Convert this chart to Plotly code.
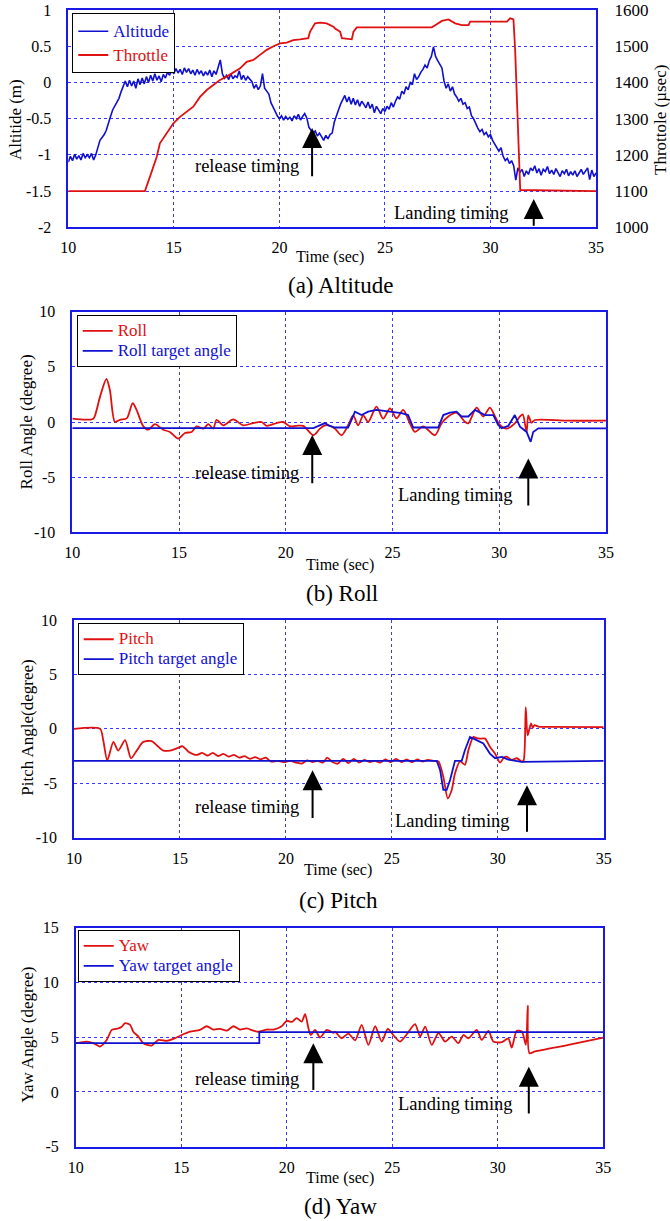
import plotly.graph_objects as go

W, H = 670, 1221
def px(x): return x / W
def py(y): return 1 - y / H

BLUE = "#1010d0"
RED = "#e01010"
AXIS = "#1a1ae6"
GRID = "#3a3aff"
FONT = "Liberation Serif, Times New Roman, serif"

# ---------------- data ----------------
time_ticks = [10, 15, 20, 25, 30, 35]
time_ticktext = ["10", "15", "20", "25", "30", "35"]

alt_t = [10.0, 10.1, 10.2, 10.3, 10.4, 10.5, 10.6, 10.7, 10.8, 10.9,
         11.0, 11.1, 11.2, 11.3, 11.4, 11.5, 11.6, 11.7, 11.8, 11.9,
         12.0, 12.1, 12.2, 12.3, 12.4, 12.5, 12.6, 12.7, 12.8, 12.9,
         13.0, 13.1, 13.2, 13.3, 13.4, 13.5, 13.6, 13.7, 13.8, 13.9,
         14.0, 14.1, 14.2, 14.3, 14.4, 14.5, 14.6, 14.7, 14.8, 14.9,
         15.0, 15.1, 15.2, 15.3, 15.4, 15.5, 15.6, 15.7, 15.8, 15.9,
         16.0, 16.1, 16.2, 16.3, 16.4, 16.5, 16.6, 16.7, 16.8, 16.9,
         17.0, 17.1, 17.2, 17.3, 17.4, 17.5, 17.6, 17.7, 17.8, 17.9,
         18.0, 18.1, 18.2, 18.3, 18.4, 18.5, 18.6, 18.7, 18.8, 18.9,
         19.0, 19.1, 19.2, 19.3, 19.4, 19.5, 19.6, 19.7, 19.8, 19.9,
         20.0, 20.1, 20.2, 20.3, 20.4, 20.5, 20.6, 20.7, 20.8, 20.9,
         21.0, 21.1, 21.2, 21.3, 21.4, 21.5, 21.6, 21.7, 21.8, 21.9,
         22.0, 22.1, 22.2, 22.3, 22.4, 22.5, 22.6, 22.7, 22.8, 22.9,
         23.0, 23.1, 23.2, 23.3, 23.4, 23.5, 23.6, 23.7, 23.8, 23.9,
         24.0, 24.1, 24.2, 24.3, 24.4, 24.5, 24.6, 24.7, 24.8, 24.9,
         25.0, 25.1, 25.2, 25.3, 25.4, 25.5, 25.6, 25.7, 25.8, 25.9,
         26.0, 26.1, 26.2, 26.3, 26.4, 26.5, 26.6, 26.7, 26.8, 26.9,
         27.0, 27.1, 27.2, 27.3, 27.4, 27.5, 27.6, 27.7, 27.8, 27.9,
         28.0, 28.1, 28.2, 28.3, 28.4, 28.5, 28.6, 28.7, 28.8, 28.9,
         29.0, 29.1, 29.2, 29.3, 29.4, 29.5, 29.6, 29.7, 29.8, 29.9,
         30.0, 30.1, 30.2, 30.3, 30.4, 30.5, 30.6, 30.7, 30.8, 30.9,
         31.0, 31.1, 31.2, 31.3, 31.4, 31.5, 31.6, 31.7, 31.8, 31.9,
         32.0, 32.1, 32.2, 32.3, 32.4, 32.5, 32.6, 32.7, 32.8, 32.9,
         33.0, 33.1, 33.2, 33.3, 33.4, 33.5, 33.6, 33.7, 33.8, 33.9,
         34.0, 34.1, 34.2, 34.3, 34.4, 34.5, 34.6, 34.7, 34.8, 34.9, 35.0]
altitude = [-1.10, -1.02, -1.08, -0.99, -1.06, -1.01, -1.07, -0.98, -1.04, -1.00,
            -1.04, -0.98, -1.07, -1.00, -0.90, -0.80, -0.76, -0.72, -0.66, -0.55,
            -0.47, -0.38, -0.33, -0.27, -0.22, -0.13, -0.06, 0.02, -0.06, 0.03,
            -0.05, 0.02, -0.08, 0.05, -0.03, 0.06, -0.02, 0.08, 0.00, 0.10,
            0.02, 0.12, 0.03, 0.09, 0.01, 0.11, 0.06, 0.14, 0.10, 0.17,
            0.12, 0.19, 0.13, 0.18, 0.11, 0.20, 0.14, 0.19, 0.12, 0.17,
            0.10, 0.18, 0.12, 0.16, 0.09, 0.15, 0.10, 0.17, 0.08, 0.16,
            0.11, 0.22, 0.31, 0.12, 0.06, 0.10, 0.04, 0.12, 0.05, 0.09,
            0.07, 0.16, 0.04, 0.10, 0.03, 0.08, 0.05, 0.01, -0.08, -0.03,
            -0.10, -0.05, 0.12, -0.08, -0.12, -0.16, -0.28, -0.33, -0.40, -0.46,
            -0.50, -0.46, -0.52, -0.47, -0.51, -0.48, -0.53, -0.46, -0.50, -0.44,
            -0.52, -0.47, -0.43, -0.49, -0.62, -0.66, -0.70, -0.67, -0.74, -0.70,
            -0.76, -0.80, -0.73, -0.78, -0.72, -0.70, -0.55, -0.45, -0.38, -0.30,
            -0.24, -0.18, -0.27, -0.20, -0.30, -0.22, -0.31, -0.24, -0.33, -0.26,
            -0.30, -0.35, -0.27, -0.36, -0.30, -0.42, -0.33, -0.38, -0.43, -0.36,
            -0.40, -0.33, -0.37, -0.28, -0.34, -0.26, -0.20, -0.23, -0.12, -0.16,
            -0.06, -0.10, 0.00, -0.03, 0.12, 0.04, 0.08, 0.14, 0.18, 0.24,
            0.20, 0.30, 0.36, 0.49, 0.36, 0.30, 0.25, 0.20, 0.02, -0.08,
            -0.02, -0.12, -0.06, -0.16, -0.20, -0.26, -0.22, -0.30, -0.28, -0.36,
            -0.34, -0.46, -0.50, -0.58, -0.63, -0.68, -0.65, -0.72, -0.69, -0.75,
            -0.72, -0.80, -0.85, -0.88, -0.95, -0.90, -1.02, -1.08, -1.05, -1.12,
            -1.08, -1.15, -1.35, -1.18, -1.24, -1.20, -1.30, -1.22, -1.27, -1.18,
            -1.22, -1.15, -1.25, -1.19, -1.28, -1.20, -1.23, -1.16, -1.26, -1.21,
            -1.27, -1.19, -1.24, -1.30, -1.22, -1.26, -1.20, -1.29, -1.23, -1.28,
            -1.22, -1.30, -1.25, -1.20, -1.27, -1.23, -1.18, -1.34, -1.21, -1.30, -1.25]

thr_t = [10.0, 13.63, 13.87, 14.19, 14.34, 14.66, 14.98, 15.29, 15.61, 15.92,
         16.24, 16.56, 16.87, 17.19, 17.5, 17.82, 18.14, 18.45, 18.77, 19.08,
         19.4, 19.72, 20.03, 20.35, 20.66, 20.98, 21.37, 21.45, 21.69, 21.93,
         22.24, 22.56, 22.64, 22.88, 22.96, 23.43, 23.51, 23.67, 27.22, 27.38,
         27.7, 28.01, 28.33, 28.64, 28.96, 29.04, 30.78, 30.93, 31.09, 31.17,
         31.25, 31.33, 31.41, 35.0]
throttle = [1100, 1100, 1140, 1195, 1232, 1260, 1287, 1305, 1319, 1333,
            1360, 1379, 1393, 1407, 1416, 1427, 1439, 1457, 1462, 1476,
            1490, 1500, 1508, 1510, 1517, 1519, 1522, 1540, 1563, 1565,
            1563, 1554, 1549, 1540, 1522, 1519, 1540, 1552, 1552, 1558,
            1570, 1574, 1563, 1558, 1558, 1568, 1568, 1577, 1574, 1489,
            1351, 1185, 1103, 1100]

roll_t = [10.0, 10.98, 11.14, 11.3, 11.6, 11.76, 12.0, 12.23, 12.55, 12.83,
          13.01, 13.33, 13.56, 13.87, 14.26, 14.57, 14.96, 15.28, 15.59, 15.82,
          16.14, 16.37, 16.6, 16.76, 17.07, 17.54, 18.0, 18.48, 18.87, 19.1,
          19.57, 19.88, 20.2, 20.5, 20.82, 21.29, 21.6, 21.83, 22.0, 22.3,
          22.61, 22.92, 23.16, 23.39, 23.63, 23.86, 24.25, 24.56, 24.88, 25.19,
          25.5, 25.81, 26.05, 26.44, 26.98, 27.3, 27.61, 28.0, 28.39, 28.55,
          28.94, 29.25, 29.56, 29.8, 30.03, 30.34, 30.73, 30.97, 31.1, 31.28,
          31.36, 31.51, 31.67, 33.2, 35.0]
roll = [0.3, 0.3, 1.1, 2.3, 3.9, 2.9, 0.0, 0.2, 0.33, 1.7,
        1.1, -0.4, -0.7, -0.2, -0.7, -0.9, -1.5, -1.0, -0.9, -0.4,
        -0.6, -0.2, -0.6, 0.2, -0.3, 0.24, -0.3, -0.1, 0.0, -0.35,
        -0.1, 0.0, -0.4, -0.35, -0.35, -1.2, -0.6, -0.3, -0.3, -0.6,
        -1.2, -0.3, 0.6, -0.3, 0.6, 0.0, 1.4, 0.3, 1.24, 0.33,
        1.1, -0.12, -0.9, -0.4, -1.2, -0.12, 0.5, 0.85, 0.03, -0.12,
        1.3, 0.5, 1.3, 0.5, -0.27, -0.6, -0.12, 0.5, 0.7, -0.9,
        0.6, -0.06, 0.18, 0.12, 0.12]

roll_tgt_t = [10.0, 21.3, 21.83, 22.0, 22.3, 22.92, 23.08, 23.24, 23.55, 23.86,
              24.25, 24.95, 25.42, 25.73, 25.97, 27.14, 27.38, 27.69, 28.0, 28.23,
              28.55, 28.86, 29.33, 29.72, 29.95, 30.11, 30.42, 30.73, 30.97, 31.28,
              31.47, 31.59, 31.83, 35.0]
roll_target = [-0.55, -0.55, -0.1, -0.3, -0.5, -0.5, 0.2, 0.94, 0.63, 0.94,
               1.1, 0.94, 0.8, 0.63, -0.5, -0.5, 0.63, 0.85, 0.94, 0.5,
               0.5, 1.1, 0.63, 0.63, -0.27, -0.57, -0.36, 0.63, -0.42, -0.9,
               -1.8, -0.9, -0.57, -0.57]

pitch_t = [10.0, 11.23, 11.38, 11.57, 11.86, 12.09, 12.41, 12.69, 12.96, 13.27,
           13.67, 13.9, 14.22, 14.53, 14.85, 15.13, 15.4, 15.79, 16.05, 16.3,
           16.55, 16.8, 17.05, 17.3, 17.55, 17.8, 18.05, 18.3, 18.55, 18.8,
           19.05, 19.3, 19.6, 19.9, 20.2, 20.5, 20.75, 21.0, 21.25, 21.5,
           21.75, 21.95, 22.2, 22.45, 22.7, 22.95, 23.2, 23.45, 23.7, 23.95,
           24.2, 24.45, 24.7, 24.95, 25.2, 25.45, 25.7, 25.95, 26.2, 26.45,
           26.7, 27.0, 27.2, 27.43, 27.64, 27.83, 27.98, 28.22, 28.45, 28.61,
           28.85, 29.0, 29.16, 29.4, 29.63, 29.87, 30.11, 30.3, 30.42, 30.66,
           30.9, 31.13, 31.22, 31.32, 31.41, 31.57, 31.65, 31.73, 31.92, 32.23, 35.0]
pitch = [0.0, 0.0, -1.04, -2.9, -1.2, -2.0, -1.04, -2.7, -2.0, -1.2,
         -1.13, -1.5, -2.0, -2.0, -1.8, -1.6, -2.1, -2.4, -2.2, -2.45,
         -2.2, -2.5, -2.3, -2.55, -2.4, -2.65, -2.5, -2.75, -2.6, -2.8,
         -2.65, -3.0, -2.95, -3.05, -2.95, -3.1, -3.2, -2.9, -3.05, -2.95,
         -3.1, -2.65, -3.05, -3.2, -2.75, -3.15, -2.75, -3.1, -2.85, -3.05,
         -2.95, -3.1, -2.8, -3.05, -2.75, -3.05, -2.8, -3.05, -2.8, -3.0,
         -2.85, -2.95, -3.0, -4.4, -6.4, -5.6, -4.1, -3.0, -3.3, -2.0,
         -0.74, -0.85, -0.9, -0.9, -1.65, -2.27, -3.1, -2.6, -2.55, -2.85,
         -2.7, -3.0, -2.9, 2.0, -0.6, 0.5, 0.1, 0.35, 0.2, 0.18, 0.15]

pitch_tgt_t = [10.0, 27.12, 27.28, 27.43, 27.59, 27.75, 27.98, 28.3, 28.45, 28.69,
               29.0, 29.32, 29.63, 29.87, 30.19, 30.5, 31.13, 35.0]
pitch_target = [-2.94, -2.94, -3.8, -5.6, -5.6, -4.7, -2.94, -2.94, -1.96, -0.74,
                -1.04, -1.35, -2.27, -2.7, -2.57, -2.82, -3.03, -2.94]

yaw_t = [10.0, 10.52, 10.84, 11.15, 11.47, 11.71, 12.02, 12.18, 12.34, 12.58,
         12.73, 12.97, 13.2, 13.6, 13.92, 14.31, 14.63, 15.02, 15.42, 15.89,
         16.21, 16.52, 16.84, 17.16, 17.47, 17.79, 18.1, 18.42, 18.66, 19.05,
         19.37, 19.76, 20.0, 20.24, 20.47, 20.71, 20.87, 21.03, 21.14, 21.34,
         21.58, 21.9, 22.21, 22.29, 22.6, 22.92, 23.24, 23.55, 23.87, 24.19,
         24.5, 24.79, 25.05, 25.37, 25.69, 26.08, 26.32, 26.56, 26.87, 27.19,
         27.5, 27.82, 28.13, 28.37, 28.61, 29.0, 29.24, 29.56, 29.79, 30.19,
         30.5, 30.66, 30.9, 31.14, 31.33, 31.42, 31.5, 31.77, 33.35, 35.0]
yaw = [4.45, 4.6, 4.45, 4.15, 4.75, 5.67, 5.8, 5.95, 6.28, 6.13,
       5.5, 5.06, 4.45, 4.24, 4.75, 4.66, 4.84, 5.2, 5.5, 5.67,
       6.0, 5.7, 5.76, 5.6, 6.0, 5.7, 5.8, 5.6, 5.5, 5.7,
       5.7, 6.0, 6.5, 6.4, 6.74, 6.43, 7.1, 5.8, 5.2, 5.67,
       4.97, 5.67, 5.4, 5.5, 4.9, 5.33, 4.72, 6.13, 4.3, 6.0,
       4.6, 5.76, 5.2, 4.6, 5.27, 6.2, 5.06, 5.97, 4.3, 5.4,
       4.6, 5.06, 4.45, 5.2, 4.9, 5.67, 4.75, 5.58, 4.6, 4.54,
       4.9, 4.05, 5.58, 5.52, 4.3, 7.87, 3.54, 3.7, 4.3, 4.97]

yaw_tgt_t = [10.0, 18.7, 35.0]
yaw_target = [4.45, 5.46, 5.46]

alt_ticks = [1, 0.5, 0, -0.5, -1, -1.5, -2]
alt_ticktext = ["1", "0.5", "0", "-0.5", "-1", "-1.5", "-2"]
thr_ticks = [1000, 1100, 1200, 1300, 1400, 1500, 1600]
thr_ticktext = ["1000", "1100", "1200", "1300", "1400", "1500", "1600"]
ang_ticks = [10, 5, 0, -5, -10]
ang_ticktext = ["10", "5", "0", "-5", "-10"]
yaw_ticks = [15, 10, 5, 0, -5]
yaw_ticktext = ["15", "10", "5", "0", "-5"]

# ---------------- figure ----------------
fig = go.Figure()

def name(txt, color, size=17):
    return f'<span style="color:{color};font-size:{size}px">{txt}</span>'

fig.add_trace(go.Scatter(x=alt_t, y=altitude, mode="lines", name=name("Altitude", BLUE),
                         line=dict(color=BLUE, width=1.6), xaxis="x", yaxis="y", legend="legend"))
fig.add_trace(go.Scatter(x=thr_t, y=throttle, mode="lines", name=name("Throttle", RED),
                         line=dict(color=RED, width=1.8), xaxis="x", yaxis="y2", legend="legend"))

fig.add_trace(go.Scatter(x=roll_t, y=roll, mode="lines", name=name("Roll", RED),
                         line=dict(color=RED, width=1.8, shape="spline", smoothing=0.8),
                         xaxis="x2", yaxis="y3", legend="legend2"))
fig.add_trace(go.Scatter(x=roll_tgt_t, y=roll_target, mode="lines", name=name("Roll target angle", BLUE),
                         line=dict(color=BLUE, width=1.8), xaxis="x2", yaxis="y3", legend="legend2"))

fig.add_trace(go.Scatter(x=pitch_t, y=pitch, mode="lines", name=name("Pitch", RED),
                         line=dict(color=RED, width=1.8, shape="spline", smoothing=0.7),
                         xaxis="x3", yaxis="y4", legend="legend3"))
fig.add_trace(go.Scatter(x=pitch_tgt_t, y=pitch_target, mode="lines", name=name("Pitch target angle", BLUE),
                         line=dict(color=BLUE, width=1.8), xaxis="x3", yaxis="y4", legend="legend3"))

fig.add_trace(go.Scatter(x=yaw_t, y=yaw, mode="lines", name=name("Yaw", RED),
                         line=dict(color=RED, width=1.8, shape="spline", smoothing=0.7),
                         xaxis="x4", yaxis="y5", legend="legend4"))
fig.add_trace(go.Scatter(x=yaw_tgt_t, y=yaw_target, mode="lines", name=name("Yaw target angle", BLUE),
                         line=dict(color=BLUE, width=1.8, shape="hv"), xaxis="x4", yaxis="y5", legend="legend4"))

boxes = [(68.3, 10, 596, 227.3), (72.3, 311.7, 606, 532.3),
         (74, 620, 603.7, 837.7), (75.7, 927.7, 603.3, 1146.7)]

def xax(box, anchor):
    l, t, r, b = box
    return dict(domain=[px(l), px(r)], range=[10, 35], tickvals=time_ticks, ticktext=time_ticktext,
                showgrid=True, gridcolor=GRID, griddash="dot", gridwidth=1,
                showline=True, linecolor=AXIS, linewidth=1.5, mirror=True,
                ticks="outside", ticklen=5, tickcolor="rgba(0,0,0,0)", automargin=False,
                tickfont=dict(family=FONT, size=16, color="black"), zeroline=False, anchor=anchor)

def yax(box, anchor, rng, tv, tt):
    l, t, r, b = box
    return dict(domain=[py(b), py(t)], range=rng, tickvals=tv, ticktext=tt,
                showgrid=True, gridcolor=GRID, griddash="dot", gridwidth=1,
                showline=True, linecolor=AXIS, linewidth=1.5, mirror=True,
                ticks="outside", ticklen=12, tickcolor="rgba(0,0,0,0)", automargin=False,
                tickfont=dict(family=FONT, size=16, color="black"), zeroline=False, anchor=anchor)

def leg(x, y, size):
    return dict(x=px(x), y=py(y), xanchor="left", yanchor="top", bgcolor="white",
                bordercolor="black", borderwidth=1, font=dict(family=FONT, size=size),
                tracegroupgap=0, itemwidth=30)

fig.update_layout(
    width=W, height=H, margin=dict(l=0, r=0, t=0, b=0),
    paper_bgcolor="white", plot_bgcolor="white",
    xaxis=xax(boxes[0], "y"),
    yaxis=yax(boxes[0], "x", [-2, 1], alt_ticks, alt_ticktext),
    yaxis2=dict(overlaying="y", side="right", anchor="x", range=[1000, 1600],
                tickvals=thr_ticks, ticktext=thr_ticktext, showgrid=False, showline=False,
                ticks="outside", ticklen=14, tickcolor="rgba(0,0,0,0)", zeroline=False,
                automargin=False, tickfont=dict(family=FONT, size=17, color="black")),
    xaxis2=xax(boxes[1], "y3"),
    yaxis3=yax(boxes[1], "x2", [-10, 10], ang_ticks, ang_ticktext),
    xaxis3=xax(boxes[2], "y4"),
    yaxis4=yax(boxes[2], "x3", [-10, 10], ang_ticks, ang_ticktext),
    xaxis4=xax(boxes[3], "y5"),
    yaxis5=yax(boxes[3], "x4", [-5, 15], yaw_ticks, yaw_ticktext),
    legend=leg(72.3, 13.3, 16),
    legend2=leg(76.7, 315, 13),
    legend3=leg(77.7, 623.3, 13),
    legend4=leg(77.7, 930, 13),
    showlegend=True,
)

# separator inside the first legend box (as in the reference)
fig.add_shape(type="line", xref="paper", yref="paper",
              x0=px(72.3), x1=px(172), y0=py(43.5), y1=py(43.5),
              line=dict(color="black", width=1))

anns = []
def paper_text(x, y, text, size, angle=0):
    anns.append(dict(x=px(x), y=py(y), xref="paper", yref="paper", text=text, showarrow=False,
                     textangle=angle, xanchor="center", yanchor="middle",
                     font=dict(family=FONT, size=size, color="black")))

# axis titles and captions
paper_text(330, 257, "Time (sec)", 16)
paper_text(340, 285, "(a) Altitude", 23)
paper_text(15, 120, "Altitide (m)", 17, -90)
paper_text(660, 120, "Throttole (µsec)", 17, -90)
paper_text(340, 565, "Time (sec)", 16)
paper_text(342, 593, "(b) Roll", 23)
paper_text(26.7, 421.7, "Roll Angle (degree)", 17, -90)
paper_text(338, 870, "Time (sec)", 16)
paper_text(338, 900, "(c) Pitch", 23)
paper_text(26.7, 728, "Pitch Angle(degree)", 17, -90)
paper_text(340, 1178, "Time (sec)", 16)
paper_text(340, 1206, "(d) Yaw", 23)
paper_text(26.7, 1035, "Yaw Angle (degree)", 17, -90)

def data_text(xr, yr, x, y, text):
    anns.append(dict(x=x, y=y, xref=xr, yref=yr, text=text, showarrow=False,
                     xanchor="center", yanchor="middle",
                     font=dict(family=FONT, size=18.5, color="black")))

def arrow(xr, yr, x, y0, y1):
    anns.append(dict(x=x, y=y1, ax=x, ay=y0, xref=xr, yref=yr, axref=xr, ayref=yr,
                     text="", showarrow=True, arrowhead=2, arrowsize=2, arrowwidth=2,
                     arrowcolor="black", standoff=0))

data_text("x", "y", 18.47, -1.15, "release timing")
arrow("x", "y", 21.55, -1.316, -0.63)
data_text("x", "y", 28.17, -1.80, "Landing timing")
arrow("x", "y", 32.05, -2.0, -1.61)

data_text("x2", "y3", 18.18, -4.6, "release timing")
arrow("x2", "y3", 21.24, -5.7, -1.18)
data_text("x2", "y3", 27.93, -6.6, "Landing timing")
arrow("x2", "y3", 31.36, -7.7, -3.3)

data_text("x3", "y4", 18.16, -7.17, "release timing")
arrow("x3", "y4", 21.26, -8.33, -3.8)
data_text("x3", "y4", 27.85, -8.48, "Landing timing")
arrow("x3", "y4", 31.38, -9.6, -5.17)

data_text("x4", "y5", 18.12, 1.16, "release timing")
arrow("x4", "y5", 21.26, 0.03, 4.45)
data_text("x4", "y5", 27.98, -1.1, "Landing timing")
arrow("x4", "y5", 31.47, -2.1, 2.31)

fig.update_layout(annotations=anns)
fig.write_html("out.html", config={"displayModeBar": False},
               post_script="document.body.style.margin='0px';document.body.style.padding='0px';")
